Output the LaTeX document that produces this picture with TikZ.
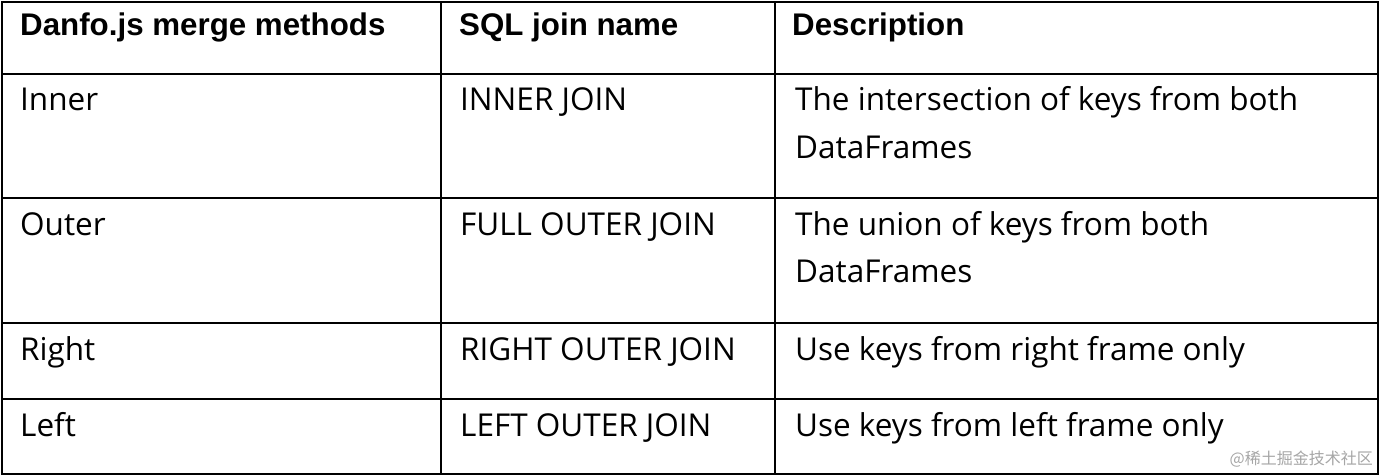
\documentclass[tikz,border=0pt]{standalone}
\usepackage{fontspec}
\setmainfont{Open Sans}
\newfontfamily\hdr{Liberation Sans}
\newfontfamily\cjk{Noto Sans CJK SC}
\begin{document}
\begin{tikzpicture}[x=1pt,y=-1pt,
  hd/.style={anchor=base west,inner sep=0pt,font=\hdr\bfseries\fontsize{31.3}{33}\selectfont},
  bd/.style={anchor=base west,inner sep=0pt,font=\fontsize{31.5}{33}\selectfont},
  grid/.style={line width=1.2pt,black}]
\useasboundingbox (0,0) rectangle (1381,476);
\fill[white] (0,0) rectangle (1381,476);
\draw[grid] (2,2) rectangle (1378,474);
\foreach \y in {74,198,323,399} \draw[grid] (2,\y) -- (1378,\y);
\foreach \x in {441,775} \draw[grid] (\x,2) -- (\x,474);
\node[hd] (h1) at (20,36) {Danfo.js merge methods};
\node[hd] (h2) at (459,36) {SQL join name};
\node[hd] (h3) at (792,36) {Description};
\node[bd] (a1) at (20,111) {Inner};
\node[bd] (b1) at (460,111) {INNER JOIN};
\node[bd] (c1) at (795,111) {The intersection of keys from both};
\node[bd] (c1b) at (795,158) {DataFrames};
\node[bd] (a2) at (20,235) {Outer};
\node[bd] (b2) at (460,235) {FULL OUTER JOIN};
\node[bd] (c2) at (795,235) {The union of keys from both};
\node[bd] (c2b) at (795,282) {DataFrames};
\node[bd] (a3) at (20,360) {Right};
\node[bd] (b3) at (460,360) {RIGHT OUTER JOIN};
\node[bd] (c3) at (795,360) {Use keys from right frame only};
\node[bd] (a4) at (20,436) {Left};
\node[bd] (b4) at (460,436) {LEFT OUTER JOIN};
\node[bd] (c4) at (795,436) {Use keys from left frame only};
\node[anchor=east,inner sep=0pt,text=black!35,font=\cjk\fontsize{16}{18}\selectfont] (wm) at (1373,459) {@稀土掘金技术社区};
\end{tikzpicture}
\end{document}
